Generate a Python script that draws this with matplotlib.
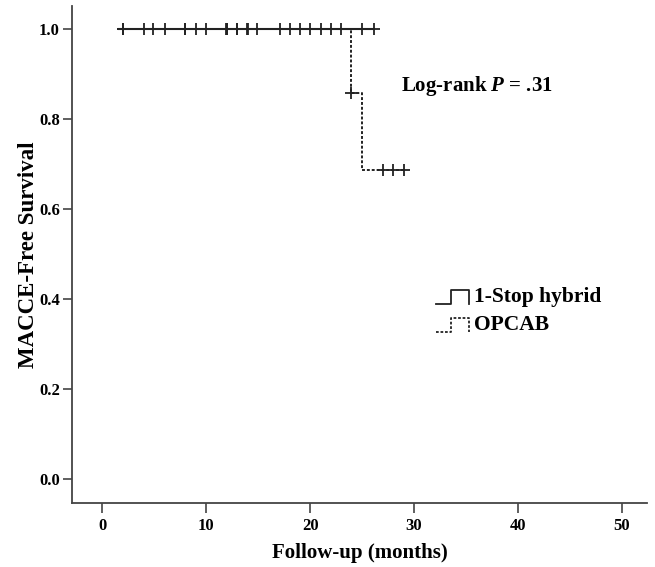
import matplotlib
matplotlib.use("Agg")
import matplotlib.pyplot as plt

# Data
hybrid_times = [1.6, 26.1]
hybrid_surv = [1.0, 1.0]
hybrid_censor = [2.0, 4.0, 4.9, 6.0, 8.0, 9.0, 10.0, 11.9, 12.0, 12.95, 13.0, 13.9, 14.9,
                 17.1, 18.1, 19.0, 20.0, 21.0, 22.0, 23.0, 25.0, 26.1]
opcab_times = [1.6, 23.9, 25.0, 29.0]
opcab_surv = [1.0, 0.857, 0.686, 0.686]
opcab_censor_t = [2.0, 8.0, 12.0, 14.0, 23.9, 27.0, 28.0, 29.0]
opcab_censor_s = [1.0, 1.0, 1.0, 1.0, 0.857, 0.686, 0.686, 0.686]
xticks = [0, 10, 20, 30, 40, 50]
yticks = [0.0, 0.2, 0.4, 0.6, 0.8, 1.0]

plt.rcParams['font.family'] = ['Liberation Serif']
plt.rcParams['font.weight'] = 'bold'
plt.rcParams['mathtext.fontset'] = 'custom'
plt.rcParams['mathtext.it'] = 'Liberation Serif:italic:bold'
plt.rcParams['mathtext.rm'] = 'Liberation Serif:bold'
plt.rcParams['mathtext.bf'] = 'Liberation Serif:bold'

fig = plt.figure(figsize=(6.55, 5.67), dpi=100)
ax = fig.add_axes([0.1104, 0.1134, 0.877, 0.876])

dark = '#222222'
ax.step(hybrid_times, hybrid_surv, where='post', color=dark, lw=1.5)
ax.plot(hybrid_censor, [1.0]*len(hybrid_censor), '+', color=dark, ms=9, mew=1.3)
ax.step(opcab_times, opcab_surv, where='post', color=dark, lw=1.4, ls=(0, (1.5, 1.0)))
ax.plot(opcab_censor_t, opcab_censor_s, '+', color=dark, ms=9, mew=1.3)

ax.text(28.7, 0.873, r'Log-rank $P$ = .31', fontsize=15, fontweight='bold',
        va='center', ha='left')

# legend (custom step symbols)
def sym(y, ls, lw):
    xs = [0.633, 0.66, 0.66, 0.69, 0.69]
    ys = [y - 0.014, y - 0.014, y + 0.014, y + 0.014, y - 0.014]
    ax.plot(xs, ys, transform=ax.transAxes, color=dark, ls=ls, lw=lw, clip_on=False)
sym(0.414, '-', 1.3)
sym(0.358, (0, (1.5, 1.0)), 1.3)
ax.text(0.70, 0.414, '1-Stop hybrid', transform=ax.transAxes, fontsize=15.5, fontweight='bold', va='center')
ax.text(0.70, 0.358, 'OPCAB', transform=ax.transAxes, fontsize=15.5, fontweight='bold', va='center')

ax.set_xlim(-2.89, 52.4)
ax.set_ylim(-0.0534, 1.051)
ax.set_xticks(xticks)
ax.set_yticks(yticks)
ax.set_xticklabels([str(v) for v in xticks], fontsize=12, fontweight='bold')
ax.set_yticklabels([f'{v:.1f}' for v in yticks], fontsize=12, fontweight='bold')
for s in ['top', 'right']:
    ax.spines[s].set_visible(False)
for s in ['left', 'bottom']:
    ax.spines[s].set_color('#444444')
    ax.spines[s].set_linewidth(1.3)
ax.tick_params(axis='x', direction='out', length=7.2, width=1.2, color='#444444', pad=4)
ax.tick_params(axis='y', direction='out', length=6.5, width=1.2, color='#444444', pad=2.5)
ax.set_xlabel('Follow-up (months)', fontsize=15, fontweight='bold')
ax.xaxis.label.set_va('center')
ax.xaxis.set_label_coords(0.5, -0.101)
ax.set_ylabel('MACCE-Free Survival', fontsize=16.5, fontweight='bold')
ax.yaxis.label.set_va('center')
ax.yaxis.label.set_ha('center')
ax.yaxis.set_label_coords(-0.077, 0.5)

fig.savefig('out.png', dpi=100)
